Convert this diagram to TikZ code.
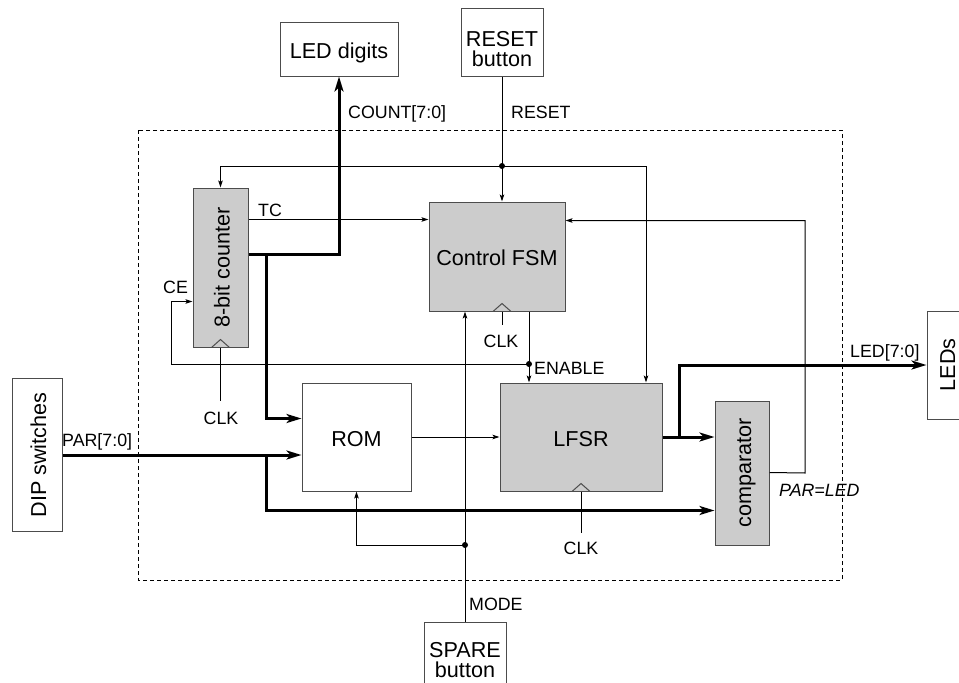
\documentclass[tikz,border=0pt]{standalone}
\usepackage{fontspec}
\setmainfont{Liberation Sans}
\usetikzlibrary{arrows.meta,calc}
\newcommand\bigf{\fontsize{21.6}{20}\selectfont}
\newcommand\smallf{\fontsize{17.8}{20}\selectfont}
\begin{document}
\begin{tikzpicture}[x=1pt,y=-1pt,
  box/.style={draw=black!70, line width=1pt, inner sep=0pt, text height=18pt, text depth=0pt, font=\bigf},
  gbox/.style={box, fill=black!20},
  bigtxt/.style={inner sep=0pt, text height=18pt, text depth=0pt, font=\bigf},
  btntxt/.style={inner sep=0pt, align=center, font=\bigf},
  lbl/.style={inner sep=0pt, font=\smallf},
  sigline/.style={line width=1pt, draw=black},
  sig/.style={sigline, -{Stealth[length=7pt,width=4.5pt,inset=1.5pt]}},
  busline/.style={line width=3pt, draw=black},
  bus/.style={busline, -{Stealth[length=15pt,width=9pt,inset=4pt]}},
  clk/.style={line width=1pt, draw=black!70},
  dot/.style={fill=black}]
\useasboundingbox (0,0) rectangle (959,683);
\clip (0,0) rectangle (959,683);

% dashed chip boundary
\draw[dash pattern=on 4pt off 3pt, line width=1pt] (138,130) rectangle (842,580);

% outside boxes
\node[box, minimum width=118, minimum height=54] (leddig) at (339,49) {LED digits};
\node[box, minimum width=82, minimum height=68] (resetb) at (502,42) {};
\node[btntxt] (resett) at (502,49) {RESET\\button};
\node[box, minimum width=82, minimum height=68] (spare) at (465,656) {};
\node[btntxt] (sparet) at (465,660) {SPARE\\button};
\node[box, minimum width=50, minimum height=153] (dip) at (37,455) {};
\node[bigtxt, rotate=90] (dipt) at (dip.center) {DIP switches};
\node[box, minimum width=38, minimum height=108] (leds) at (946,365) {};
\node[bigtxt, rotate=90] (ledst) at (leds.center) {LEDs};

% inside boxes
\node[gbox, minimum width=55, minimum height=159] (cnt) at (220.5,267.5) {};
\node[bigtxt, rotate=90] (cntt) at (cnt.center) {8-bit counter};
\node[gbox, minimum width=136, minimum height=109] (fsm) at (497,256.5) {Control FSM};
\node[box, minimum width=109, minimum height=108] (rom) at (356.5,437) {ROM};
\node[gbox, minimum width=162, minimum height=108] (lfsr) at (581,437) {LFSR};
\node[gbox, minimum width=54, minimum height=144] (comp) at (742,473) {};
\node[bigtxt, rotate=90] (compt) at (comp.center) {comparator};

% clock wedges
\draw[clk] ($(cnt.south)+(-9,0)$) -- ++(9,-8) -- ++(9,8);
\draw[clk] ($(fsm.south)+(-4,0)$) -- ++(9,-8) -- ++(9,8);
\draw[clk] ($(lfsr.south)+(-9,0)$) -- ++(9,-8) -- ++(9,8);

% clock lines
\draw[sigline] (cnt.south) -- ++(0,53);
\draw[sigline] ($(fsm.south)+(5,0)$) -- ++(0,13);
\draw[sigline] (lfsr.south) -- ++(0,41);

% RESET
\coordinate (rdot) at (502,166);
\coordinate (rR) at (646,166);
\draw[sig] (resetb.south) -- (resetb.south |- fsm.north);
\draw[sig] (rdot) -| (cnt.north);
\draw[sig] (rdot) -- (rR) -- (rR |- lfsr.north);
\fill[dot] (rdot) circle (3pt);

% TC
\draw[sig] ($(cnt.north east)+(0,32)$) -- ($(fsm.north west)+(0,18)$);

% COUNT bus
\draw[bus] ($(cnt.north east)+(0,67)$) -| (leddig.south);
\draw[bus] ($(cnt.north east)+(18,67)$) |- ($(rom.north west)+(0,36)$);

% ENABLE
\coordinate (edot) at (529,364);
\draw[sig] (fsm.south -| edot) -- (edot |- lfsr.north);
\draw[sig] (edot) -- (171,364) |- ($(cnt.north west)+(0,114)$);
\fill[dot] (edot) circle (3pt);

% PAR=LED feedback
\draw[sig] ($(comp.north east)+(0,72)$) -- (805,473) |- ($(fsm.north east)+(0,19)$);

% MODE
\coordinate (mdot) at (465,545);
\draw[sig] (spare.north) -- (spare.north |- fsm.south);
\draw[sig] (mdot) -| (rom.south);
\fill[dot] (mdot) circle (3pt);

% PAR bus
\coordinate (pj) at (266,455);
\draw[bus] (dip.east) -- (dip.east -| rom.west);
\draw[bus] (pj) |- ($(comp.south west)+(0,-35)$);

% ROM -> LFSR
\draw[sig] (rom.east) -- (lfsr.west);

% LFSR output
\coordinate (lj) at (679,437);
\draw[bus] (lfsr.east) -- (lfsr.east -| comp.west);
\draw[bus] (lj) |- (leds.west);

% labels
\node[lbl, anchor=base west] (lcount) at (348,118) {COUNT[7:0]};
\node[lbl, anchor=base west] (lreset) at (511,118) {RESET};
\node[lbl, anchor=base west] (ltc) at (258,216) {TC};
\node[lbl, anchor=base west] (lce) at (163,293) {CE};
\node[lbl, anchor=base] (lclk1) at (221,424) {CLK};
\node[lbl, anchor=base] (lclk2) at (501,347) {CLK};
\node[lbl, anchor=base west] (lenable) at (534,374) {ENABLE};
\node[lbl, anchor=base] (lclk3) at (581,554) {CLK};
\node[lbl, anchor=base west] (lmode) at (469,610) {MODE};
\node[lbl, anchor=base west] (lpar) at (62,446) {PAR[7:0]};
\node[lbl, anchor=base west] (lled) at (850,357) {LED[7:0]};
\node[lbl, anchor=base west, font=\smallf\itshape] (lpl) at (779,496) {PAR=LED};
\end{tikzpicture}
\end{document}
